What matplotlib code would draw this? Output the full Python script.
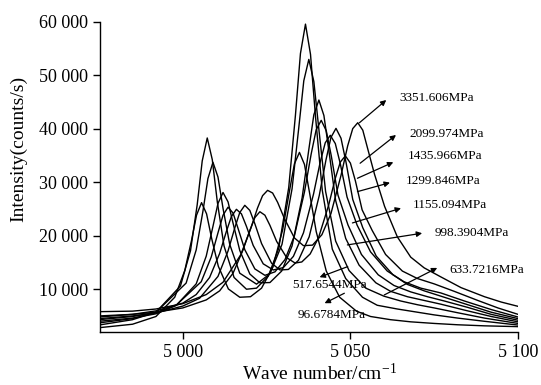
import matplotlib
matplotlib.use("Agg")
import matplotlib.pyplot as plt
from matplotlib.ticker import FuncFormatter

plt.rcParams['font.family'] = ['Liberation Serif', 'DejaVu Serif']
plt.rcParams['mathtext.default'] = 'regular'

# spectra (wave number in cm-1, intensity in counts/s)
x_96 = [4975, 4985, 4992, 4997.6, 5000.6, 5002.6, 5004.1, 5005.6, 5007.1, 5008.6, 5010.6, 5013.6, 5017, 5020.2,
        5023.5, 5026.8, 5029.8, 5031.8, 5033.3, 5034.8, 5036.3, 5037.8, 5039.8, 5042.8, 5046.8, 5051.8, 5056,
        5062, 5068, 5075, 5082, 5090, 5100]
y_96 = [2800, 3450, 4900, 8500, 13500, 19100, 23850, 26200, 24100, 19550, 14300, 10050, 8500, 8600,
        10200, 14050, 21150, 28300, 33450, 35600, 33350, 28100, 20800, 13400, 8500, 5900, 4900,
        4300, 3900, 3600, 3350, 3150, 3000]

x_517 = [4975, 4985, 4992, 4999.3, 5002.3, 5004.3, 5005.8, 5007.3, 5008.8, 5010.3, 5012.3, 5015.3, 5019, 5022,
         5025.5, 5028.6, 5031.6, 5033.6, 5035.1, 5036.6, 5038.1, 5039.6, 5041.6, 5044.6, 5048.6, 5053.6, 5058,
         5064, 5070, 5075, 5082, 5090, 5100]
y_517 = [3300, 4300, 5700, 10600, 17200, 25800, 34000, 38300, 34250, 26350, 18100, 12200, 10000, 10200,
         12450, 17600, 29000, 42500, 54100, 59600, 53950, 42250, 28550, 17500, 12000, 8500, 7000,
         6300, 5700, 5200, 4600, 4000, 3300]

x_633 = [4975, 4985, 4992, 5001, 5004, 5006, 5007.5, 5009, 5010.5, 5012, 5014, 5017, 5022, 5026,
         5029.6, 5032.6, 5034.6, 5036.1, 5037.6, 5039.1, 5040.6, 5042.6, 5045.6, 5049.6, 5054.6, 5060,
         5065, 5070, 5075, 5082, 5090, 5100]
y_633 = [3700, 4500, 5700, 11150, 17350, 24550, 30700, 33750, 31000, 25150, 18400, 13000, 10950, 12900,
         18400, 28800, 40200, 49000, 53000, 48850, 39900, 28300, 19000, 13500, 10200, 8700,
         7800, 7100, 6500, 5600, 4600, 3600]

x_998 = [4975, 4985, 4992, 4998, 5004, 5007, 5009, 5010.5, 5012, 5013.5, 5015, 5017, 5020, 5023, 5026,
         5029.5, 5032.6, 5035.6, 5037.6, 5039.1, 5040.6, 5042.1, 5043.6, 5045.6, 5048.6, 5052.6, 5057.6,
         5062, 5067, 5072, 5077, 5084, 5092, 5100]
y_998 = [4000, 4600, 5400, 6950, 11000, 16200, 21750, 26050, 28100, 26350, 22350, 17250, 12850, 11200, 11250,
         13400, 18100, 27100, 36150, 42650, 45400, 42500, 35850, 26600, 19500, 14500, 11200,
         9600, 8600, 7900, 7200, 6100, 4900, 3900]

x_1155 = [4975, 4985, 4992, 4998, 5005.5, 5008.5, 5010.5, 5012, 5013.5, 5015, 5016.5, 5018.5, 5021.5, 5024.5,
          5027.5, 5030.5, 5033.3, 5036.3, 5038.3, 5039.8, 5041.3, 5042.8, 5044.3, 5046.3, 5049.3, 5053.3,
          5058.3, 5063, 5068, 5073, 5078, 5085, 5092, 5100]
y_1155 = [4300, 4900, 5650, 7000, 11400, 16050, 20550, 23850, 25350, 24250, 21350, 17400, 13800, 12600,
          13250, 15550, 20000, 28200, 35300, 39850, 41600, 39650, 34950, 27600, 22000, 16500,
          12700, 10700, 9500, 8600, 7800, 6600, 5300, 4200]

x_1299 = [4975, 4985, 4992, 5000, 5005, 5010.5, 5013.5, 5015.5, 5017, 5018.5, 5020, 5021.5, 5023.5, 5026.5,
          5029, 5031.5, 5034.5, 5037.7, 5040.7, 5042.7, 5044.2, 5045.7, 5047.2, 5048.7, 5050.7, 5053.7,
          5057.7, 5062.7, 5067, 5072, 5078, 5085, 5092, 5100]
y_1299 = [4500, 5000, 5550, 6850, 8300, 12400, 17150, 21450, 24350, 25700, 24750, 22250, 18550, 14850,
          13600, 13700, 15400, 19800, 27500, 34150, 38400, 40100, 38250, 33750, 26800, 21500,
          16200, 12700, 10900, 9700, 8500, 7100, 5700, 4500]

x_1435 = [4975, 4985, 4992, 5000, 5004, 5008, 5011, 5013, 5014.5, 5016, 5017.5, 5019, 5021, 5024,
          5027, 5030, 5033, 5036, 5039, 5041, 5042.5, 5044, 5045.5, 5047, 5049, 5052,
          5056, 5061, 5066, 5071, 5077, 5084, 5092, 5100]
y_1435 = [4800, 5300, 5950, 7400, 9000, 12200, 16700, 20800, 23600, 24950, 24100, 21750, 18200, 14750,
          13600, 14050, 16150, 20550, 27800, 33800, 37400, 38800, 37250, 33450, 27250, 22000,
          17000, 13400, 11400, 10200, 9300, 7800, 6200, 4800]

x_2099 = [4975, 4985, 4992, 5000, 5007, 5011, 5015, 5018, 5020, 5021.5, 5023, 5024.5, 5026, 5028, 5031,
          5033.5, 5035.5, 5038, 5040.5, 5043.5, 5045.5, 5047, 5048.5, 5050, 5051.5, 5053.5, 5056.5,
          5060.5, 5065.5, 5070, 5075, 5081, 5088, 5094, 5100]
y_2099 = [5000, 5300, 5700, 6500, 8000, 9700, 13000, 17400, 21000, 23400, 24500, 23850, 21950, 18950, 15900,
          14900, 15100, 16600, 19650, 25700, 30750, 33800, 34950, 33600, 30250, 24850, 21000,
          16500, 13400, 12000, 11000, 9600, 7900, 6500, 5300]

x_3351 = [4975, 4985, 4992, 5000, 5007, 5012, 5017.3, 5020.3, 5022.3, 5023.8, 5025.3, 5026.8, 5028.3, 5030.3,
          5033.3, 5036, 5038.7, 5041.5, 5044.2, 5047.2, 5049.2, 5050.7, 5052.2, 5053.7, 5055.2, 5057.2,
          5060.2, 5064, 5068, 5072, 5077, 5083, 5090, 5095, 5100]
y_3351 = [5800, 5900, 6300, 7300, 9000, 11300, 16450, 21400, 25200, 27500, 28500, 28000, 26250, 23250,
          19600, 18150, 18250, 20200, 24150, 31300, 36850, 40050, 41150, 39750, 36200, 31500,
          25500, 19800, 16000, 14000, 12300, 10300, 8600, 7600, 6800]

spectra = [(x_96, y_96), (x_517, y_517), (x_633, y_633), (x_998, y_998), (x_1155, y_1155),
           (x_1299, y_1299), (x_1435, y_1435), (x_2099, y_2099), (x_3351, y_3351)]

# annotation: label, arrow tail (on the curve), arrow head, label position
labels = ['3351.606MPa', '2099.974MPa', '1435.966MPa', '1299.846MPa', '1155.094MPa',
          '998.3904MPa', '633.7216MPa', '517.6544MPa', '96.6784MPa']
arrow_tail = [(5052.7, 41150), (5052.9, 33570), (5052.1, 30760), (5052.1, 28260), (5050.6, 22400),
              (5049.1, 18290), (5060.1, 8930), (5049.2, 14230), (5048.2, 9250)]
arrow_head = [(5060.7, 45400), (5063.6, 38860), (5062.8, 33760), (5061.8, 29940), (5065.1, 25150),
              (5071.4, 20480), (5075.9, 13990), (5040.8, 12250), (5042.3, 7380)]
label_pos = [(5064.6, 45850), (5067.6, 39050), (5067.0, 34900), (5066.6, 30250), (5068.5, 25770),
             (5075.0, 20480), (5079.5, 13600), (5032.7, 10800), (5034.3, 5200)]

fig = plt.figure(figsize=(5.41, 3.85), dpi=100)
ax = fig.add_axes([0.1848, 0.1377, 0.7727, 0.8052])

for xs, ys in spectra:
    ax.plot(xs, ys, color='black', lw=1.0)

for txt, t, h, p in zip(labels, arrow_tail, arrow_head, label_pos):
    ax.annotate('', xy=h, xytext=t,
                arrowprops=dict(arrowstyle='-|>', color='black', lw=0.9, mutation_scale=8,
                                shrinkA=0, shrinkB=0))
    ax.text(p[0], p[1], txt, fontsize=9.5, ha='left', va='center')

ax.set_xlim(4975.3, 5100)
ax.set_ylim(2000, 60000)
ax.set_xticks([5000, 5050, 5100])
ax.set_yticks([10000, 20000, 30000, 40000, 50000, 60000])
fmt = FuncFormatter(lambda v, pos: f'{int(v):,}'.replace(',', ' '))
ax.xaxis.set_major_formatter(fmt)
ax.yaxis.set_major_formatter(fmt)
ax.tick_params(direction='out', length=5, width=1, labelsize=13)
for s in ['top', 'right']:
    ax.spines[s].set_visible(False)
for s in ['left', 'bottom']:
    ax.spines[s].set_linewidth(1)

ax.set_xlabel('Wave number/cm$^{-1}$', fontsize=14)
ax.xaxis.set_label_coords(0.526, -0.1)
ax.set_ylabel('Intensity(counts/s)', fontsize=14)
ax.yaxis.set_label_coords(-0.175, 0.59)

fig.savefig('out.png', dpi=100)
